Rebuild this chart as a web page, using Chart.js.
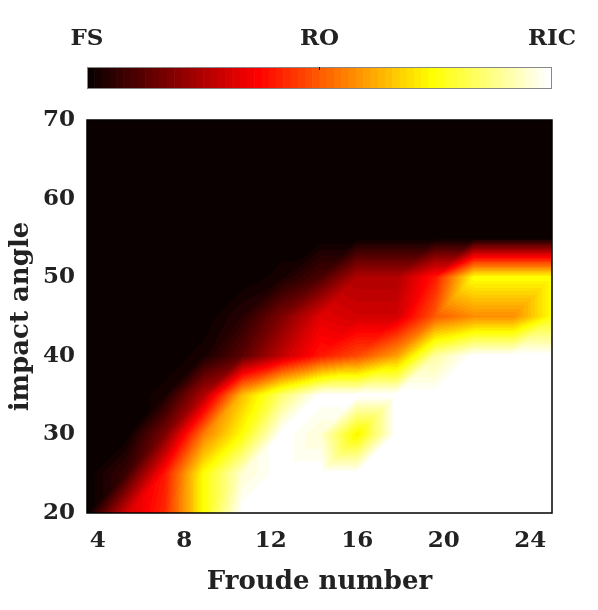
<!DOCTYPE html>
<html>
<head>
<meta charset="utf-8">
<script src="https://cdn.jsdelivr.net/npm/chart.js"></script>
<style>
  html, body { margin: 0; padding: 0; background: #fff; }
  canvas { display: block; }
</style>
</head>
<body>
<canvas id="regimeMap" width="598" height="610"></canvas>
<script>
// grid of the map: Froude number (columns) x impact angle (rows)
const froudeNumbers = [3.5, 5.3, 7.1, 8.9, 10.7, 12.5, 14.3, 16.0, 17.8, 19.6, 21.4, 23.2, 25.0];
const impactAngles = [20, 25, 30, 35, 40, 45, 50, 55, 60, 65, 70];

// regime value, 0 = FS, 1 = RO, 2 = RIC (one array per impact angle)
const regime20 = [0, 0.6, 0.85, 1.5, 2, 2, 2, 2, 2, 2, 2, 2, 2];
const regime25 = [0, 0.15, 0.8, 1.5, 1.9, 2, 2, 2, 2, 2, 2, 2, 2];
const regime30 = [0, 0, 0.35, 1.1, 1.5, 2, 1.9, 1.45, 2, 2, 2, 2, 2];
const regime35 = [0, 0, 0.05, 0.5, 1.3, 1.7, 2, 2, 2, 2, 2, 2, 2];
const regime40 = [0, 0, 0, 0.05, 0.25, 0.55, 0.8, 0.95, 1.2, 1.8, 2, 2, 2];
const regime45 = [0, 0, 0, 0, 0.1, 0.35, 0.65, 0.6, 0.6, 1.0, 1.15, 1.15, 1.5];
const regime50 = [0, 0, 0, 0, 0, 0.05, 0.2, 0.5, 0.5, 0.8, 1.5, 1.5, 1.5];
const regime55 = [0, 0, 0, 0, 0, 0, 0, 0, 0, 0, 0, 0, 0];
const regime60 = [0, 0, 0, 0, 0, 0, 0, 0, 0, 0, 0, 0, 0];
const regime65 = [0, 0, 0, 0, 0, 0, 0, 0, 0, 0, 0, 0, 0];
const regime70 = [0, 0, 0, 0, 0, 0, 0, 0, 0, 0, 0, 0, 0];
const regimeRows = [regime20, regime25, regime30, regime35, regime40, regime45,
                    regime50, regime55, regime60, regime65, regime70];

const regimeLabels = ['FS', 'RO', 'RIC'];
const regimeLevels = [0, 1, 2];

const xTicks = [4, 8, 12, 16, 20, 24];
const yTicks = [20, 30, 40, 50, 60, 70];

const textColor = '#222';
const fontFamily = "'DejaVu Serif', 'Liberation Serif', serif";

// matlab "hot" colormap, 64 levels
function hotColor(k) {
  const r = k < 24 ? (k + 1) / 24 : 1;
  const g = k < 24 ? 0 : (k < 48 ? (k - 23) / 24 : 1);
  const b = k < 48 ? 0 : (k - 47) / 16;
  return [Math.round(r * 255), Math.round(g * 255), Math.round(b * 255)];
}
function levelIndex(v) {
  let k = Math.floor(v / 2 * 64);
  return Math.max(0, Math.min(63, k));
}

function findCell(arr, v) {
  for (let i = 0; i < arr.length - 1; i++) {
    if (v <= arr[i + 1]) return i;
  }
  return arr.length - 2;
}

const surfacePlugin = {
  id: 'surface',
  beforeDatasetsDraw(chart) {
    const {ctx, chartArea, scales} = chart;
    const w = Math.round(chartArea.right - chartArea.left);
    const h = Math.round(chartArea.bottom - chartArea.top);
    const off = document.createElement('canvas');
    off.width = w; off.height = h;
    const octx = off.getContext('2d');
    const img = octx.createImageData(w, h);
    for (let py = 0; py < h; py++) {
      const a = scales.y.getValueForPixel(chartArea.top + py + 0.5);
      const j = findCell(impactAngles, a);
      let t = (a - impactAngles[j]) / (impactAngles[j + 1] - impactAngles[j]);
      t = Math.max(0, Math.min(1, t));
      for (let px = 0; px < w; px++) {
        const f = scales.x.getValueForPixel(chartArea.left + px + 0.5);
        const i = findCell(froudeNumbers, f);
        let u = (f - froudeNumbers[i]) / (froudeNumbers[i + 1] - froudeNumbers[i]);
        u = Math.max(0, Math.min(1, u));
        const v00 = regimeRows[j][i], v10 = regimeRows[j][i + 1];
        const v01 = regimeRows[j + 1][i], v11 = regimeRows[j + 1][i + 1];
        // each cell split in two triangles along its rising diagonal
        let v;
        if (u >= t) {
          v = v00 + u * (v10 - v00) + t * (v11 - v10);
        } else {
          v = v00 + t * (v01 - v00) + u * (v11 - v01);
        }
        const c = hotColor(levelIndex(v));
        const p = (py * w + px) * 4;
        img.data[p] = c[0]; img.data[p + 1] = c[1]; img.data[p + 2] = c[2]; img.data[p + 3] = 255;
      }
    }
    octx.putImageData(img, 0, 0);
    ctx.drawImage(off, chartArea.left, chartArea.top);
  },
  afterDraw(chart) {
    const {ctx, chartArea} = chart;
    ctx.save();
    // axes box
    ctx.strokeStyle = '#000';
    ctx.lineWidth = 1.5;
    ctx.strokeRect(chartArea.left, chartArea.top, chartArea.right - chartArea.left, chartArea.bottom - chartArea.top);

    // colorbar
    const barTop = 67, barH = 21;
    const bw = chartArea.right - chartArea.left;
    for (let k = 0; k < 64; k++) {
      const c = hotColor(k);
      ctx.fillStyle = `rgb(${c[0]},${c[1]},${c[2]})`;
      ctx.fillRect(chartArea.left + k * bw / 64, barTop, bw / 64 + 0.6, barH);
    }
    ctx.strokeStyle = '#888';
    ctx.lineWidth = 1;
    ctx.strokeRect(chartArea.left + 0.5, barTop + 0.5, bw - 1, barH);
    ctx.strokeStyle = '#000';
    ctx.beginPath();
    ctx.moveTo(chartArea.left + bw / 2, barTop);
    ctx.lineTo(chartArea.left + bw / 2, barTop + 3);
    ctx.stroke();

    ctx.fillStyle = textColor;
    ctx.font = `bold 23px ${fontFamily}`;
    ctx.textAlign = 'center';
    ctx.textBaseline = 'middle';
    regimeLabels.forEach((lab, n) => {
      ctx.fillText(lab, chartArea.left + regimeLevels[n] / 2 * bw, 39);
    });
    ctx.restore();
  }
};

// invisible points at the grid nodes
const nodes = [];
impactAngles.forEach((a, j) => {
  froudeNumbers.forEach((f, i) => nodes.push({x: f, y: a, v: regimeRows[j][i]}));
});

new Chart(document.getElementById('regimeMap').getContext('2d'), {
  type: 'scatter',
  data: {
    datasets: [{
      data: nodes,
      pointRadius: 0,
      pointHoverRadius: 0
    }]
  },
  options: {
    responsive: false,
    animation: false,
    layout: { padding: { left: 0, top: 120, right: 46, bottom: 0 } },
    plugins: { legend: { display: false }, tooltip: { enabled: false } },
    scales: {
      x: {
        type: 'linear',
        min: 3.5,
        max: 25,
        afterBuildTicks: s => { s.ticks = xTicks.map(v => ({value: v})); },
        afterFit: s => { s.height = 97; },
        grid: { display: false, drawTicks: false },
        border: { display: false },
        ticks: { padding: 14, color: textColor, font: { family: fontFamily, size: 23, weight: 'bold' } },
        title: {
          display: true,
          text: 'Froude number',
          color: textColor,
          padding: { top: 0, bottom: 12 },
          font: { family: fontFamily, size: 26, weight: 'bold' }
        }
      },
      y: {
        type: 'linear',
        min: 20,
        max: 70,
        afterBuildTicks: s => { s.ticks = yTicks.map(v => ({value: v})); },
        afterFit: s => { s.width = 87; },
        grid: { display: false, drawTicks: false },
        border: { display: false },
        ticks: { padding: 12, color: textColor, font: { family: fontFamily, size: 23, weight: 'bold' } },
        title: {
          display: true,
          text: 'impact angle',
          color: textColor,
          padding: { top: 6, bottom: 0 },
          font: { family: fontFamily, size: 26, weight: 'bold' }
        }
      }
    }
  },
  plugins: [surfacePlugin]
});
</script>
</body>
</html>
